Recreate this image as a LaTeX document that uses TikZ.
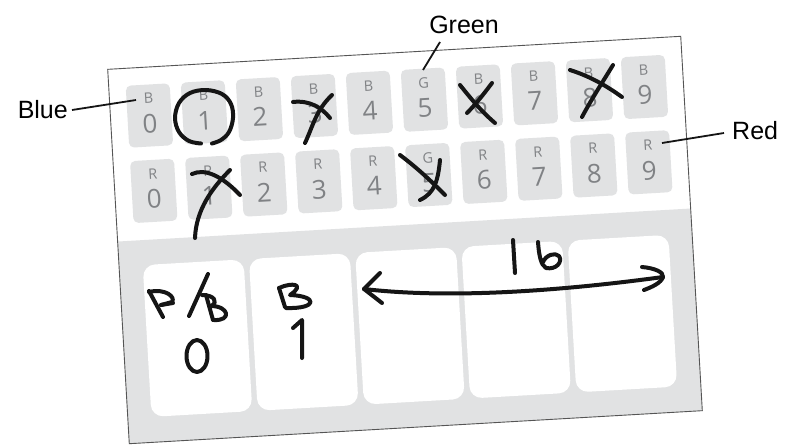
\documentclass[tikz,border=0pt]{standalone}
\usepackage{fontspec}
\setmainfont{Liberation Sans}
\newfontfamily\tilefont{Open Sans}
\definecolor{tilegray}{HTML}{E1E2E3}
\definecolor{tiletext}{HTML}{808285}
\definecolor{ink}{HTML}{151515}
\definecolor{edge}{HTML}{555555}
\tikzset{
  card/.style={draw=edge, line width=0.9pt},
  tile/.style={fill=tilegray, rounded corners=5pt, minimum width=44pt, minimum height=62pt, inner sep=0pt},
  slot/.style={fill=white, rounded corners=12pt, minimum width=101pt, minimum height=152pt, inner sep=0pt},
  tletter/.style={inner sep=0pt, text=tiletext, font=\tilefont\fontsize{14.5}{16}\selectfont},
  tdigit/.style={inner sep=0pt, text=tiletext, font=\tilefont\fontsize{26}{28}\selectfont},
  lbl/.style={inner sep=0pt, font=\fontsize{25}{28}\selectfont},
  lead/.style={line width=1.8pt, draw=ink},
  hand/.style={line width=4pt, draw=ink, line cap=round, line join=round}
}
\begin{document}
\begin{tikzpicture}[x=1pt, y=-1pt]
\useasboundingbox (0,0) rectangle (786,445);
\fill[white] (0,0) rectangle (786,445);
% ---------- card ----------
\begin{scope}[shift={(405,240)}, rotate=3.3, transform shape]
  \fill[white] (-287,-187.5) rectangle (287,187.5);
  \fill[tilegray] (-287,-15) rectangle (287,187.5);
  \draw[card] (-287,-187.5) rectangle (287,187.5);
  \foreach \i/\a/\b in {0/B/R,1/B/R,2/B/R,3/B/R,4/B/R,5/G/G,6/B/R,7/B/R,8/B/R,9/B/R}{
    \pgfmathsetmacro{\uu}{-248+55.1*\i}
    \node[tile] (ta\i) at (\uu,-139) {};
    \node[tletter] (la\i) at (\uu,-156) {\a};
    \node[tdigit] (da\i) at (\uu,-131) {\i};
    \node[tile] (tb\i) at (\uu,-63.5) {};
    \node[tletter] (lb\i) at (\uu,-80.5) {\b};
    \node[tdigit] (db\i) at (\uu,-55.5) {\i};
  }
  \foreach \j in {0,...,4}{
    \pgfmathsetmacro{\uu}{-212.8+106.4*\j}
    \node[slot] (s\j) at (\uu,86) {};
  }
\end{scope}
% ---------- labels ----------
\node[lbl, anchor=east, inner xsep=4pt] (blue) at (72,110) {Blue};
\coordinate (blueend) at (136,100);
\draw[lead] (blue.east) -- (blueend);
\node[lbl] (green) at (464,25) {Green};
\coordinate (greenA) at (440,42);
\coordinate (greenB) at (423,70);
\draw[lead] (greenA) -- (greenB);
\node[lbl, anchor=west] (red) at (732,131) {Red};
\coordinate (redA) at (662,143);
\coordinate (redB) at (724,133);
\draw[lead] (redA) -- (redB);
% ---------- handwriting ----------
% circle around B1 (open at the bottom)
\draw[hand] plot[smooth, tension=0.6] coordinates {(201,143.5) (189,141) (179,132) (175,118) (179,103) (190,93) (206,90) (222,94) (231,104) (233,118) (229,132) (221,140) (212,143.5)};
% cross B3
\draw[hand] (293,102) .. controls (310,100) and (322,108) .. (330,118);
\draw[hand] (332,95) .. controls (316,110) and (313,126) .. (305,143);
% cross B6
\draw[hand] (460,85) .. controls (472,100) and (482,112) .. (495,123);
\draw[hand] (492,83) .. controls (483,95) and (475,105) .. (467,113);
% cross B8
\draw[hand] (570,70) .. controls (592,77) and (608,87) .. (622,97);
\draw[hand] (613,65) .. controls (602,83) and (591,100) .. (582,117);
% cross R1 + line
\draw[hand] (192,174) .. controls (205,168) and (222,176) .. (240,195);
\draw[hand] (230,170) .. controls (212,188) and (196,210) .. (195,238);
% cross G5 (row 2)
\draw[hand] (400,155) .. controls (420,170) and (435,185) .. (445,195);
\draw[hand] (440,160) .. controls (438,180) and (435,193) .. (420,200);
% R / B
\draw[hand] (149,291) -- (163,317);
\draw[hand] (149,292) .. controls (165,288) and (176,297) .. (172,302) -- (161,305);
\draw[hand] (161,305) -- (173,303);
\draw[hand] (208,274) -- (189,316);
\draw[hand] (206,295) -- (213,320);
\draw[hand] (202,295) .. controls (214,295) and (219,302) .. (211,306) .. controls (229,306) and (232,321) .. (214,320);
% 0
\draw[hand] (197,356) ellipse [x radius=10.5, y radius=16];
% B 1
\draw[hand] (279,288) -- (285,307);
\draw[hand] (279,288) .. controls (292,282) and (306,284) .. (290,295) .. controls (318,296) and (318,309) .. (286,308);
\draw[hand] (293,328) -- (302,320) -- (302,358);
% double arrow 16
\draw[hand] (364,289) .. controls (450,299) and (560,291) .. (663,277);
\draw[hand] (380,273) -- (364,289) -- (382,303);
\draw[hand] (642,267) .. controls (654,268) and (664,272) .. (663,277) .. controls (661,283) and (652,287) .. (644,290);
\draw[hand] (513,240) -- (515,273);
\draw[hand] (538,242) .. controls (539,256) and (541,265) .. (546,268) .. controls (556,270) and (563,262) .. (559,256) .. controls (555,252) and (546,255) .. (543,262);
\end{tikzpicture}
\end{document}
